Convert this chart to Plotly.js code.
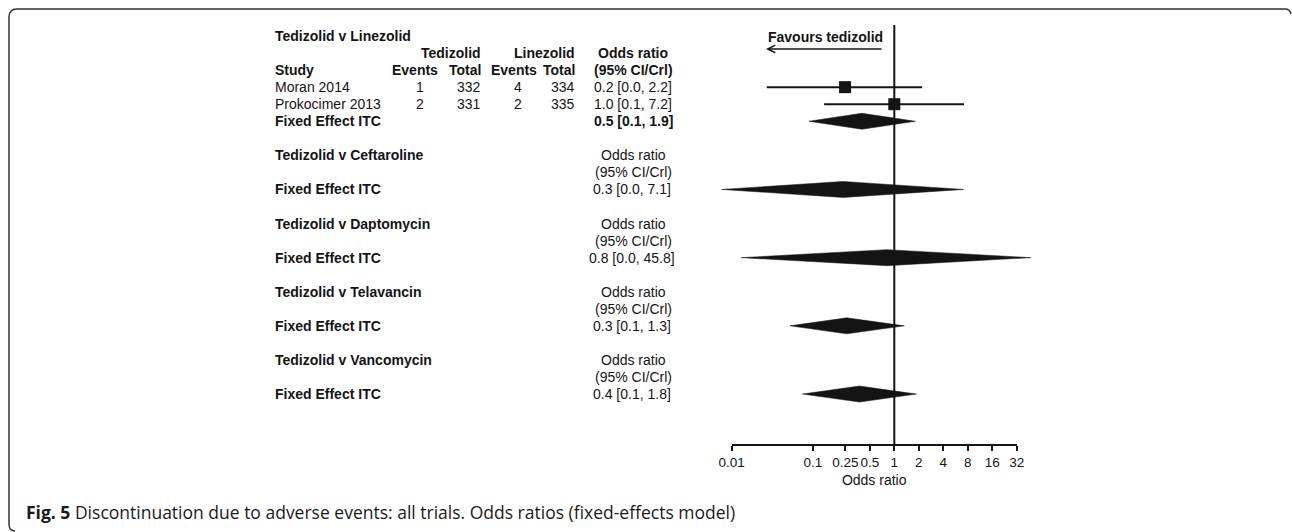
<!DOCTYPE html>
<html>
<head>
<meta charset="utf-8">
<script src="https://cdn.plot.ly/plotly-3.0.1.min.js"></script>
<style>html,body{margin:0;padding:0;background:#fff;}#chart{width:1292px;height:532px;}</style>
</head>
<body>
<div id="chart"></div>
<script>
// ---------- data ----------
const studies = ['Moran 2014', 'Prokocimer 2013'];
const tedEvents = [1, 2];
const tedTotal = [332, 331];
const linEvents = [4, 2];
const linTotal = [334, 335];
const studyOR = [0.248, 1.0];
const studyLo = [0.027, 0.137];
const studyHi = [2.2, 7.2];
const studyLabel = ['0.2 [0.0, 2.2]', '1.0 [0.1, 7.2]'];

const comparators = ['Linezolid', 'Ceftaroline', 'Daptomycin', 'Telavancin', 'Vancomycin'];
const pooledOR = [0.40, 0.233, 0.81, 0.26, 0.373];
const pooledLo = [0.089, 0.0075, 0.013, 0.052, 0.074];
const pooledHi = [1.82, 7.18, 47.8, 1.33, 1.87];
const pooledLabel = ['0.5 [0.1, 1.9]', '0.3 [0.0, 7.1]', '0.8 [0.0, 45.8]', '0.3 [0.1, 1.3]', '0.4 [0.1, 1.8]'];

const tickVals = [0.01, 0.1, 0.25, 0.5, 1, 2, 4, 8, 16, 32];
const tickText = ['0.01', '0.1', '0.25', '0.5', '1', '2', '4', '8', '16', '32'];

const caption = '<b>Fig. 5</b> Discontinuation due to adverse events: all trials. Odds ratios (fixed-effects model)';

// ---------- layout helpers ----------
const W = 1292, H = 532;
const px = x => x / W;
const py = y => 1 - y / H;
const ROW0 = 36, ROWH = 17.05;
const rowTop = -ROW0 / ROWH, rowBot = (H - ROW0) / ROWH;
const INK = '#141414';
const FONT = 'Liberation Sans, Arial, sans-serif';
const FS = 14;

// row layout
const studyRows = [3, 4];
const pooledRows = [5, 9, 13, 17, 21];
const titleRows = [0, 7, 11, 15, 19];
const axisRow = 24;

const traces = [];
// study CIs
studies.forEach((s, i) => {
  traces.push({x: [studyLo[i], studyHi[i]], y: [studyRows[i], studyRows[i]], mode: 'lines',
    line: {color: INK, width: 2}, xaxis: 'x', yaxis: 'y', showlegend: false, hoverinfo: 'skip'});
});
traces.push({x: studyOR, y: studyRows, mode: 'markers', marker: {symbol: 'square', size: 12, color: INK},
  xaxis: 'x', yaxis: 'y', showlegend: false, hoverinfo: 'skip'});
// pooled diamonds
const dh = 0.47;
comparators.forEach((c, i) => {
  const r = pooledRows[i];
  traces.push({x: [pooledLo[i], pooledOR[i], pooledHi[i], pooledOR[i], pooledLo[i]],
    y: [r, r - dh, r, r + dh, r], mode: 'lines', fill: 'toself', fillcolor: INK,
    line: {color: INK, width: 0.5}, xaxis: 'x', yaxis: 'y', showlegend: false, hoverinfo: 'skip'});
});
// reference line at OR = 1 (on the tick axis)
traces.push({x: [1, 1], y: [-0.65, axisRow], mode: 'lines', line: {color: INK, width: 2},
  xaxis: 'x2', yaxis: 'y', showlegend: false, hoverinfo: 'skip'});

// ---------- annotations ----------
const ann = [];
function txt(text, xp, row, anchor, bold, extra) {
  ann.push(Object.assign({text: bold ? '<b>' + text + '</b>' : text, xref: 'paper', yref: 'y',
    x: px(xp), y: row, xanchor: anchor, yanchor: 'middle', showarrow: false,
    font: {family: FONT, size: FS, color: INK}}, extra || {}));
}
// Linezolid section
txt('Tedizolid v ' + comparators[0], 273, 0, 'left', true);
txt('Tedizolid', 483, 1, 'right', true);
txt('Linezolid', 577, 1, 'right', true);
txt('Odds ratio', 633, 1, 'center', true);
txt('Study', 273, 2, 'left', true);
txt('Events', 415, 2, 'center', true);
txt('Total', 483, 2, 'right', true);
txt('Events', 514, 2, 'center', true);
txt('Total', 577, 2, 'right', true);
txt('(95% CI/Crl)', 633, 2, 'center', true);
studies.forEach((s, i) => {
  const r = studyRows[i];
  txt(s, 273, r, 'left', false);
  txt(String(tedEvents[i]), 420, r, 'center', false);
  txt(String(tedTotal[i]), 483, r, 'right', false);
  txt(String(linEvents[i]), 518, r, 'center', false);
  txt(String(linTotal[i]), 577, r, 'right', false);
  txt(studyLabel[i], 592, r, 'left', false);
});
txt('Fixed Effect ITC', 273, pooledRows[0], 'left', true);
txt(pooledLabel[0], 592, pooledRows[0], 'left', true);
// other sections
for (let i = 1; i < comparators.length; i++) {
  const t = titleRows[i];
  txt('Tedizolid v ' + comparators[i], 273, t, 'left', true);
  txt('Odds ratio', 633, t, 'center', false);
  txt('(95% CI/Crl)', 633, t + 1, 'center', false);
  txt('Fixed Effect ITC', 273, pooledRows[i], 'left', true);
  txt(pooledLabel[i], 632, pooledRows[i], 'center', false);
}
// favours label and arrow
txt('Favours tedizolid', 825, 0.05, 'center', true);
ann.push({text: '', xref: 'paper', yref: 'y', x: px(766), y: 0.76, showarrow: true,
  ax: 117, ay: 0, arrowhead: 5, arrowsize: 1, arrowwidth: 1.5, arrowcolor: INK, standoff: 0});
// caption
ann.push({text: caption, xref: 'paper', yref: 'paper', x: px(24), y: py(512), xanchor: 'left', yanchor: 'middle',
  showarrow: false, font: {family: 'Open Sans, sans-serif', size: 17.5, color: '#1a1a1a'}});

// ---------- axes ----------
const PPD = 81.3, X1 = 894.3;        // pixels per decade, pixel of OR = 1
const lgMin = -2.35, lgMax = 1.95;
const tkMin = Math.log10(tickVals[0]), tkMax = Math.log10(tickVals[tickVals.length - 1]);

const layout = {
  width: W, height: H, margin: {l: 0, r: 0, t: 0, b: 0},
  paper_bgcolor: '#fff', plot_bgcolor: 'rgba(0,0,0,0)', hovermode: false, showlegend: false,
  font: {family: FONT, size: FS, color: INK},
  xaxis: {type: 'log', range: [lgMin, lgMax], domain: [px(X1 + lgMin * PPD), px(X1 + lgMax * PPD)],
    visible: false, fixedrange: true},
  xaxis2: {type: 'log', range: [tkMin, tkMax], domain: [px(X1 + tkMin * PPD), px(X1 + tkMax * PPD)],
    anchor: 'free', position: py(ROW0 + axisRow * ROWH), side: 'bottom',
    tickmode: 'array', tickvals: tickVals, ticktext: tickText, tickangle: 0,
    ticks: 'outside', ticklen: 5, tickwidth: 2, tickcolor: INK,
    showline: true, linewidth: 2, linecolor: INK, showgrid: false, zeroline: false,
    tickfont: {family: FONT, size: 13.5, color: INK},
    title: {text: 'Odds ratio', font: {family: FONT, size: FS, color: INK}, standoff: 5}, fixedrange: true},
  yaxis: {range: [rowBot, rowTop], domain: [0, 1], visible: false, fixedrange: true},
  annotations: ann,
  shapes: [{type: 'path', xref: 'paper', yref: 'paper',
    path: 'M ' + px(9) + ',' + py(524) + ' Q ' + px(9) + ',' + py(531) + ' ' + px(15) + ',' + py(531) +
      ' M ' + px(9) + ',' + py(524) + ' L ' + px(9) + ',' + py(17) + ' Q ' + px(9) + ',' + py(9) + ' ' + px(17) + ',' + py(9) +
      ' L ' + px(1285) + ',' + py(9) + ' Q ' + px(1290) + ',' + py(9) + ' ' + px(1291) + ',' + py(14),
    line: {color: '#333', width: 1.5}}]
};

Plotly.newPlot('chart', traces, layout, {staticPlot: true, displayModeBar: false});
</script>
</body>
</html>
